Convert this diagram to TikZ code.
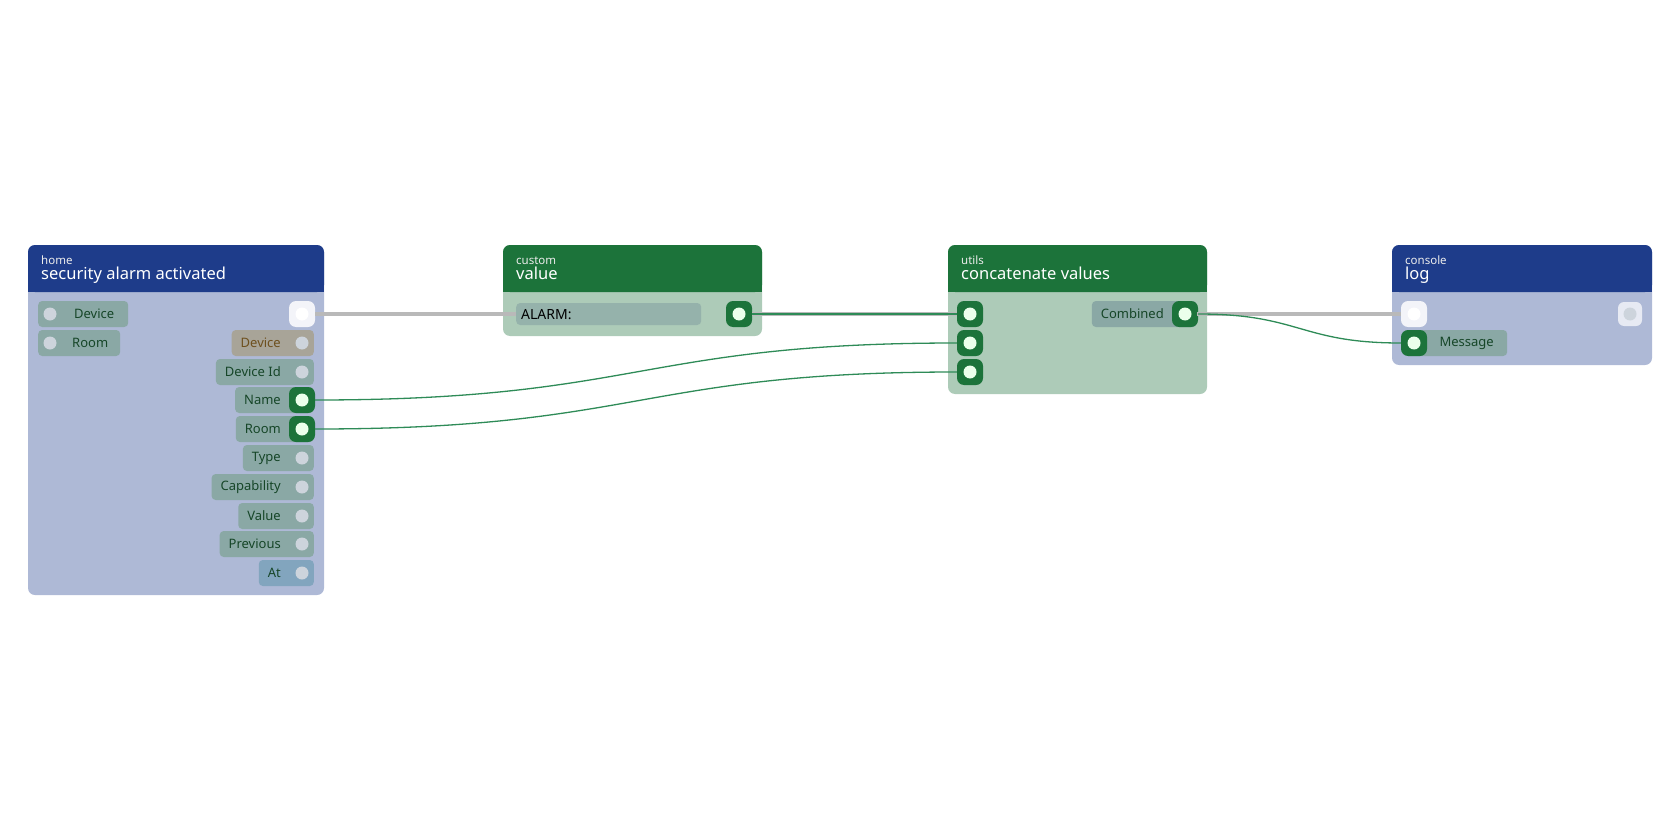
\documentclass[tikz,border=0pt]{standalone}
\usepackage{fontspec}
\setmainfont{Noto Sans}
\usetikzlibrary{positioning, calc}
\definecolor{homehead}{RGB}{30, 60, 138}
\definecolor{homebody}{RGB}{174, 185, 214}
\definecolor{greenhead}{RGB}{28, 115, 58}
\definecolor{greenbody}{RGB}{173, 203, 184}
\definecolor{pillcolor}{RGB}{138, 168, 165}
\definecolor{pilltext}{RGB}{22, 70, 40}
\definecolor{devpill}{RGB}{168, 164, 152}
\definecolor{devtext}{RGB}{110, 80, 30}
\definecolor{atpill}{RGB}{130, 165, 190}
\definecolor{wirecolor}{RGB}{46, 139, 87}
\definecolor{execcolor}{RGB}{185, 185, 185}
\definecolor{dotgray}{RGB}{205, 212, 220}

\tikzset{
  head/.style={fill=#1, rounded corners=7pt},
  body/.style={fill=#1, rounded corners=7pt},
  pill/.style={fill=pillcolor, rounded corners=4pt, minimum height=26pt, inner xsep=9pt, font=\fontsize{13}{13}\selectfont, text=pilltext, anchor=east},
  port/.style={circle, fill=dotgray, minimum size=13pt, inner sep=0pt},
  gport/.style={fill=greenhead, rounded corners=7pt, minimum size=26pt, inner sep=0pt, path picture={\fill[white!92!green] (path picture bounding box.center) circle (6.5pt);}},
  wport/.style={fill=white!85!homebody, rounded corners=7pt, minimum size=26pt, inner sep=0pt, path picture={\fill[white] (path picture bounding box.center) circle (6.5pt);}},
  cat/.style={font=\fontsize{11.5}{12}\selectfont, text=white!85!gray, anchor=base west, inner sep=0pt},
  title/.style={font=\fontsize{16.5}{17}\selectfont, text=white, anchor=base west, inner sep=0pt},
  wire/.style={wirecolor, line width=1.3pt},
  exec/.style={execcolor, line width=4.5pt}
}

\begin{document}
\begin{tikzpicture}[x=1pt, y=-1pt]
    \useasboundingbox (0,0) rectangle (1680,840);

    % home: security alarm activated
    \fill[body=homebody] (28,245) rectangle (324,595);
    \fill[head=homehead] (28,245) rectangle (324,292);
    \fill[homehead] (28,280) rectangle (324,292);
    \node[cat] at (41,264) {home};
    \node[title] at (41,279) {security alarm activated};

    \node[pill, anchor=west, minimum width=90pt] (hDevIn) at (38,314) {\kern22pt Device};
    \node[pill, anchor=west, minimum width=82pt] (hRoomIn) at (38,343) {\kern22pt Room};
    \node[port] at (50,314) {};
    \node[port] at (50,343) {};

    \node[wport] (hExec) at (302,314) {};
    \node[pill, fill=devpill, text=devtext] (hDev) at (314,343) {Device\kern24pt};
    \node[pill] (hDevId) at (314,372) {Device Id\kern24pt};
    \node[pill] (hName) at (314,400) {Name\kern24pt};
    \node[pill] (hRoom) at (314,429) {Room\kern24pt};
    \node[pill] (hType) at (314,458) {Type\kern24pt};
    \node[pill] (hCap) at (314,487) {Capability\kern24pt};
    \node[pill] (hVal) at (314,516) {Value\kern24pt};
    \node[pill] (hPrev) at (314,544) {Previous\kern24pt};
    \node[pill, fill=atpill] (hAt) at (314,573) {At\kern24pt};
    \foreach \y in {343,372,458,487,516,544,573}
        \node[port] at (302,\y) {};
    \node[gport] (pName) at (302,400) {};
    \node[gport] (pRoom) at (302,429) {};

    % custom: value
    \fill[body=greenbody] (503,245) rectangle (762,336);
    \fill[head=greenhead] (503,245) rectangle (762,292);
    \fill[greenhead] (503,280) rectangle (762,292);
    \node[cat] at (516,264) {custom};
    \node[title] at (516,279) {value};
    \node[fill=pillcolor!70!greenbody, rounded corners=4pt, minimum width=185pt, minimum height=22pt, anchor=west, inner xsep=5pt, text depth=0pt, font=\fontsize{14}{14}\selectfont, text=black, align=left, text width=175pt] (valField) at (516,314) {ALARM:};
    \node[gport] (pVal) at (739,314) {};

    % utils: concatenate values
    \fill[body=greenbody] (948,245) rectangle (1207,394);
    \fill[head=greenhead] (948,245) rectangle (1207,292);
    \fill[greenhead] (948,280) rectangle (1207,292);
    \node[cat] at (961,264) {utils};
    \node[title] at (961,279) {concatenate values};
    \node[pill, minimum height=26pt] (cComb) at (1197,314) {Combined\kern24pt};
    \node[gport] (pComb) at (1185,314) {};
    \node[gport] (pIn1) at (970,314) {};
    \node[gport] (pIn2) at (970,343) {};
    \node[gport] (pIn3) at (970,372) {};

    % console: log
    \fill[body=homebody] (1392,245) rectangle (1652,365);
    \fill[head=homehead] (1392,245) rectangle (1652,292);
    \fill[homehead] (1392,280) rectangle (1652,292);
    \node[cat] at (1405,264) {console};
    \node[title] at (1405,279) {log};
    \node[pill, anchor=west, minimum width=103pt] (lMsg) at (1404,343) {\kern22pt Message};
    \node[wport] (pLogIn) at (1414,314) {};
    \node[gport] (pMsg) at (1414,343) {};
    \node[fill=white!70!homebody, rounded corners=6pt, minimum size=24pt, inner sep=0pt, path picture={\fill[dotgray] (path picture bounding box.center) circle (6.5pt);}] (pLogOut) at (1630,314) {};

    % Connectors
    \draw[exec] (hExec.east) -- (valField.west);
    \draw[exec] (pVal.east) -- (pIn1.west);
    \draw[wire] (pVal.east) -- (pIn1.west);
    \draw[exec] (cComb.east |- pComb) -- (pLogIn.west);
    \draw[wire] (pName.east) .. controls (640,400) and (640,343) .. (pIn2.west);
    \draw[wire] (pRoom.east) .. controls (640,429) and (640,372) .. (pIn3.west);
    \draw[wire] (pComb.east) .. controls (1300,314) and (1300,343) .. (pMsg.west);
\end{tikzpicture}
\end{document}
